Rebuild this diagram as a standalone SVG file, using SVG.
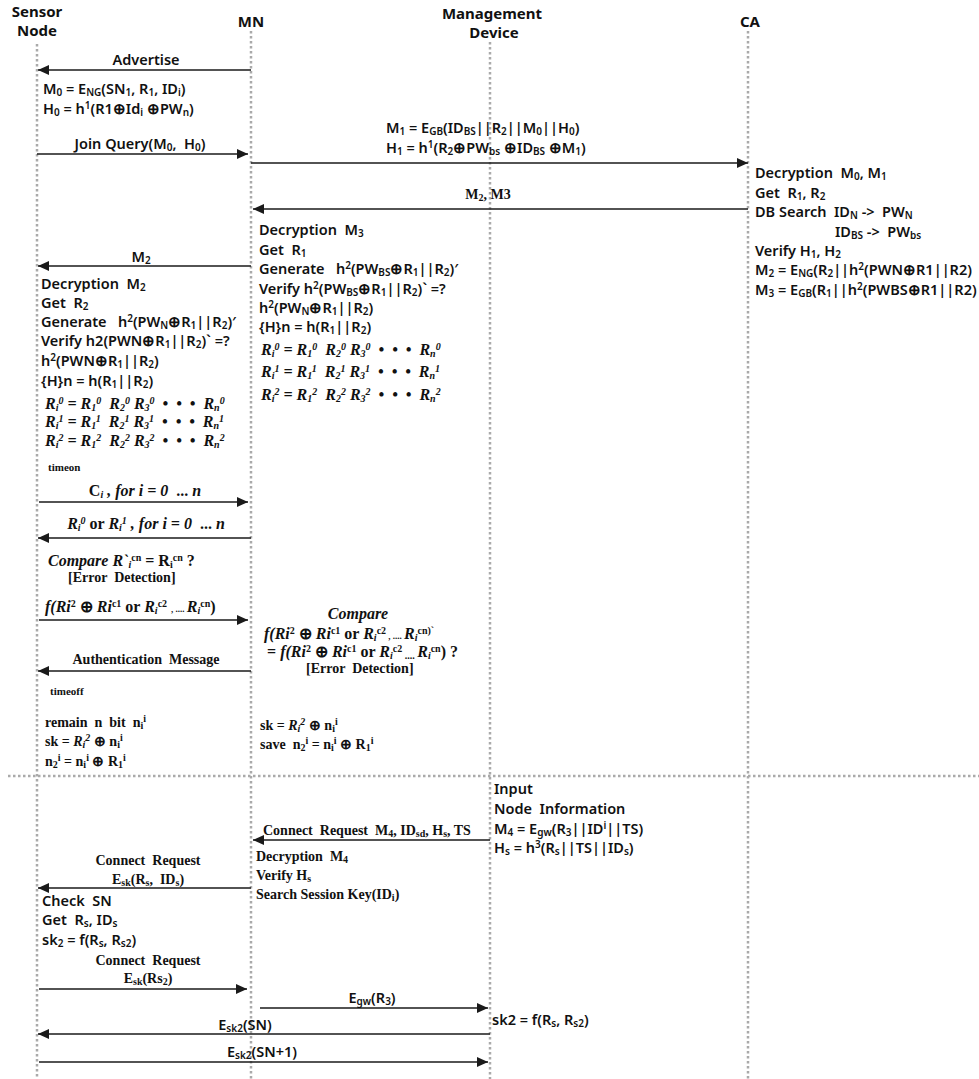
<svg xmlns="http://www.w3.org/2000/svg" width="979" height="1079" viewBox="0 0 979 1079">
<defs>
<marker id="ah" markerUnits="userSpaceOnUse" markerWidth="12" markerHeight="10" refX="11" refY="5" orient="auto">
<path d="M0,0 L11,5 L0,10 z" fill="#1a1a1a"/>
</marker>
<style>
text{white-space:pre;fill:#111}
.h{font-family:"Noto Sans","Liberation Sans",sans-serif;font-weight:bold;font-size:15px;text-anchor:middle}
.s{font-family:"Noto Sans","Liberation Sans",sans-serif;font-size:14.5px;font-weight:600}
.b{font-family:"Liberation Serif",serif;font-weight:bold;font-size:14px}
.m{font-family:"Liberation Serif",serif;font-weight:bold;font-style:italic;font-size:16px}
.t{font-family:"Liberation Serif",serif;font-weight:bold;font-size:11px}
.c{text-anchor:middle}
.sb{font-size:10px;baseline-shift:-2px}
.sp{font-size:10px;baseline-shift:5px}
.life{stroke:#aaa;stroke-width:2.5;stroke-dasharray:2.5 2.5;fill:none}
.msg{stroke:#1a1a1a;stroke-width:1.5;fill:none;marker-end:url(#ah)}
</style>
</defs>
<rect width="979" height="1079" fill="#fff"/>

<g id="lifelines">
<line class="life" x1="37" y1="44" x2="37" y2="1079"/>
<line class="life" x1="251" y1="31" x2="251" y2="1079"/>
<line class="life" x1="490" y1="42" x2="490" y2="1079"/>
<line class="life" x1="748" y1="31" x2="748" y2="1079"/>
<line class="life" x1="8" y1="776" x2="979" y2="776"/>
</g>

<g id="sensor-node">
<text class="h" x="37" y="17">Sensor</text>
<text class="h" x="37" y="36">Node</text>
</g>
<g id="mn">
<text class="h" x="251" y="27">MN</text>
</g>
<g id="management-device">
<text class="h" x="492" y="19">Management</text>
<text class="h" x="494" y="38">Device</text>
</g>
<g id="ca">
<text class="h" x="750" y="27">CA</text>
</g>

<g id="connectors">
<line class="msg" x1="251" y1="70" x2="38" y2="70"/>
<line class="msg" x1="37" y1="154" x2="248" y2="154"/>
<line class="msg" x1="251" y1="163" x2="748" y2="163"/>
<line class="msg" x1="748" y1="209" x2="253" y2="209"/>
<line class="msg" x1="251" y1="266" x2="38" y2="266"/>
<line class="msg" x1="39" y1="502" x2="248" y2="502"/>
<line class="msg" x1="251" y1="538" x2="38" y2="538"/>
<line class="msg" x1="39" y1="620" x2="248" y2="620"/>
<line class="msg" x1="251" y1="671" x2="38" y2="671"/>
<line class="msg" x1="490" y1="840" x2="253" y2="840"/>
<line class="msg" x1="251" y1="888" x2="38" y2="888"/>
<line class="msg" x1="39" y1="989" x2="247" y2="989"/>
<line class="msg" x1="260" y1="1008" x2="488" y2="1008"/>
<line class="msg" x1="490" y1="1034" x2="38" y2="1034"/>
<line class="msg" x1="39" y1="1062" x2="488" y2="1062"/>
</g>

<g id="labels">
<text class="s c" x="146" y="65">Advertise</text>
<text class="s" x="43" y="94">M<tspan class="sb">0</tspan> = E<tspan class="sb">NG</tspan>(SN<tspan class="sb">1</tspan>, R<tspan class="sb">1</tspan>, ID<tspan class="sb">i</tspan>)</text>
<text class="s" x="43" y="114">H<tspan class="sb">0</tspan> = h<tspan class="sp">1</tspan>(R1⊕Id<tspan class="sb">i</tspan> ⊕PW<tspan class="sb">n</tspan>)</text>
<text class="s c" x="140" y="149">Join Query(M<tspan class="sb">0</tspan>,  H<tspan class="sb">0</tspan>)</text>
<text class="s" x="386" y="133">M<tspan class="sb">1</tspan> = E<tspan class="sb">GB</tspan>(ID<tspan class="sb">BS</tspan>||R<tspan class="sb">2</tspan>||M<tspan class="sb">0</tspan>||H<tspan class="sb">0</tspan>)</text>
<text class="s" x="386" y="153">H<tspan class="sb">1</tspan> = h<tspan class="sp">1</tspan>(R<tspan class="sb">2</tspan>⊕PW<tspan class="sb">bs</tspan> ⊕ID<tspan class="sb">BS</tspan> ⊕M<tspan class="sb">1</tspan>)</text>

<text class="s" x="755" y="178">Decryption  M<tspan class="sb">0</tspan>, M<tspan class="sb">1</tspan></text>
<text class="s" x="755" y="198">Get  R<tspan class="sb">1</tspan>, R<tspan class="sb">2</tspan></text>
<text class="s" x="755" y="217">DB Search  ID<tspan class="sb">N</tspan> -&gt;  PW<tspan class="sb">N</tspan></text>
<text class="s" x="835" y="237">ID<tspan class="sb">BS</tspan> -&gt;  PW<tspan class="sb">bs</tspan></text>
<text class="s" x="755" y="256">Verify H<tspan class="sb">1</tspan>, H<tspan class="sb">2</tspan></text>
<text class="s" x="755" y="275">M<tspan class="sb">2</tspan> = E<tspan class="sb">NG</tspan>(R<tspan class="sb">2</tspan>||h<tspan class="sp">2</tspan>(PWN⊕R1||R2)</text>
<text class="s" x="755" y="295">M<tspan class="sb">3</tspan> = E<tspan class="sb">GB</tspan>(R<tspan class="sb">1</tspan>||h<tspan class="sp">2</tspan>(PWBS⊕R1||R2)</text>

<text class="b c" x="488" y="199">M<tspan class="sb">2</tspan>, M3</text>

<text class="s" x="259" y="235">Decryption  M<tspan class="sb">3</tspan></text>
<text class="s" x="259" y="255">Get  R<tspan class="sb">1</tspan></text>
<text class="s" x="259" y="274">Generate   h<tspan class="sp">2</tspan>(PW<tspan class="sb">BS</tspan>⊕R<tspan class="sb">1</tspan>||R<tspan class="sb">2</tspan>)′</text>
<text class="s" x="259" y="294">Verify h<tspan class="sp">2</tspan>(PW<tspan class="sb">BS</tspan>⊕R<tspan class="sb">1</tspan>||R<tspan class="sb">2</tspan>)` =?</text>
<text class="s" x="259" y="313">h<tspan class="sp">2</tspan>(PW<tspan class="sb">N</tspan>⊕R<tspan class="sb">1</tspan>||R<tspan class="sb">2</tspan>)</text>
<text class="s" x="259" y="332">{H}n = h(R<tspan class="sb">1</tspan>||R<tspan class="sb">2</tspan>)</text>
<text class="m" x="261" y="355">R<tspan class="sb">i</tspan><tspan class="sp">0</tspan> = R<tspan class="sb">1</tspan><tspan class="sp">0</tspan>  R<tspan class="sb">2</tspan><tspan class="sp">0</tspan> R<tspan class="sb">3</tspan><tspan class="sp">0</tspan>  •  •  •  R<tspan class="sb">n</tspan><tspan class="sp">0</tspan></text>
<text class="m" x="261" y="377">R<tspan class="sb">i</tspan><tspan class="sp">1</tspan> = R<tspan class="sb">1</tspan><tspan class="sp">1</tspan>  R<tspan class="sb">2</tspan><tspan class="sp">1</tspan> R<tspan class="sb">3</tspan><tspan class="sp">1</tspan>  •  •  •  R<tspan class="sb">n</tspan><tspan class="sp">1</tspan></text>
<text class="m" x="261" y="400">R<tspan class="sb">i</tspan><tspan class="sp">2</tspan> = R<tspan class="sb">1</tspan><tspan class="sp">2</tspan>  R<tspan class="sb">2</tspan><tspan class="sp">2</tspan> R<tspan class="sb">3</tspan><tspan class="sp">2</tspan>  •  •  •  R<tspan class="sb">n</tspan><tspan class="sp">2</tspan></text>

<text class="s c" x="141" y="262">M<tspan class="sb">2</tspan></text>
<text class="s" x="41" y="289">Decryption  M<tspan class="sb">2</tspan></text>
<text class="s" x="41" y="308">Get  R<tspan class="sb">2</tspan></text>
<text class="s" x="41" y="327">Generate   h<tspan class="sp">2</tspan>(PW<tspan class="sb">N</tspan>⊕R<tspan class="sb">1</tspan>||R<tspan class="sb">2</tspan>)′</text>
<text class="s" x="41" y="346">Verify h2(PWN⊕R<tspan class="sb">1</tspan>||R<tspan class="sb">2</tspan>)` =?</text>
<text class="s" x="41" y="366">h<tspan class="sp">2</tspan>(PWN⊕R<tspan class="sb">1</tspan>||R<tspan class="sb">2</tspan>)</text>
<text class="s" x="41" y="386">{H}n = h(R<tspan class="sb">1</tspan>||R<tspan class="sb">2</tspan>)</text>
<text class="m" x="45" y="409">R<tspan class="sb">i</tspan><tspan class="sp">0</tspan> = R<tspan class="sb">1</tspan><tspan class="sp">0</tspan>  R<tspan class="sb">2</tspan><tspan class="sp">0</tspan> R<tspan class="sb">3</tspan><tspan class="sp">0</tspan>  •  •  •  R<tspan class="sb">n</tspan><tspan class="sp">0</tspan></text>
<text class="m" x="45" y="427">R<tspan class="sb">i</tspan><tspan class="sp">1</tspan> = R<tspan class="sb">1</tspan><tspan class="sp">1</tspan>  R<tspan class="sb">2</tspan><tspan class="sp">1</tspan> R<tspan class="sb">3</tspan><tspan class="sp">1</tspan>  •  •  •  R<tspan class="sb">n</tspan><tspan class="sp">1</tspan></text>
<text class="m" x="45" y="446">R<tspan class="sb">i</tspan><tspan class="sp">2</tspan> = R<tspan class="sb">1</tspan><tspan class="sp">2</tspan>  R<tspan class="sb">2</tspan><tspan class="sp">2</tspan> R<tspan class="sb">3</tspan><tspan class="sp">2</tspan>  •  •  •  R<tspan class="sb">n</tspan><tspan class="sp">2</tspan></text>

<text class="t" x="48" y="471">timeon</text>
<text class="m c" x="145" y="496"><tspan font-style="normal">C</tspan><tspan class="sb">i</tspan> , for i = 0  <tspan font-style="normal">...</tspan> n</text>
<text class="m c" x="146" y="529">R<tspan class="sb">i</tspan><tspan class="sp">0</tspan><tspan font-style="normal"> or </tspan>R<tspan class="sb">i</tspan><tspan class="sp">1</tspan> , for i = 0  <tspan font-style="normal">...</tspan> n</text>
<text class="m" x="48" y="566">Compare R`<tspan class="sb">i</tspan><tspan class="sp" font-style="normal">cn</tspan><tspan font-style="normal"> = R</tspan><tspan class="sb" font-style="normal">i</tspan><tspan class="sp" font-style="normal">cn</tspan><tspan font-style="normal"> ?</tspan></text>
<text class="b" x="68" y="582">[Error  Detection]</text>

<text class="m" x="45" y="612">f(Ri<tspan class="sp" font-style="normal">2</tspan> <tspan font-style="normal">⊕</tspan> Ri<tspan class="sp" font-style="normal">c1</tspan><tspan font-style="normal"> or </tspan>R<tspan class="sb">i</tspan><tspan class="sp" font-style="normal">c2</tspan> <tspan font-size="9px" font-style="normal">, .... </tspan>R<tspan class="sb">i</tspan><tspan class="sp" font-style="normal">cn</tspan><tspan font-style="normal">)</tspan></text>

<text class="m c" x="358" y="619">Compare</text>
<text class="m" x="264" y="639">f(Ri<tspan class="sp" font-style="normal">2</tspan> <tspan font-style="normal">⊕</tspan> Ri<tspan class="sp" font-style="normal">c1</tspan><tspan font-style="normal"> or </tspan>R<tspan class="sb">i</tspan><tspan class="sp" font-style="normal">c2</tspan><tspan font-size="9px" font-style="normal"> , .... </tspan>R<tspan class="sb">i</tspan><tspan class="sp" font-style="normal">cn</tspan><tspan font-style="normal" class="sp">)`</tspan></text>
<text class="m" x="267" y="657"><tspan font-style="normal">= </tspan>f(Ri<tspan class="sp" font-style="normal">2</tspan> <tspan font-style="normal">⊕</tspan> Ri<tspan class="sp" font-style="normal">c1</tspan><tspan font-style="normal"> or </tspan>R<tspan class="sb">i</tspan><tspan class="sp" font-style="normal">c2</tspan><tspan font-size="9px" font-style="normal" class="sb"> .... </tspan>R<tspan class="sb">i</tspan><tspan class="sp" font-style="normal">cn</tspan><tspan font-style="normal">) ?</tspan></text>
<text class="b" x="306" y="673">[Error  Detection]</text>

<text class="b c" x="146" y="664">Authentication  Message</text>
<text class="t" x="50" y="695">timeoff</text>
<text class="b" x="45" y="727">remain  n  bit  n<tspan class="sb">i</tspan><tspan class="sp">i</tspan></text>
<text class="b" x="45" y="746">sk = <tspan font-style="italic">R<tspan class="sb">i</tspan><tspan class="sp">2</tspan></tspan> ⊕ n<tspan class="sb">i</tspan><tspan class="sp">i</tspan></text>
<text class="b" x="45" y="766">n<tspan class="sb">2</tspan><tspan class="sp">i</tspan> = n<tspan class="sb">i</tspan><tspan class="sp">i</tspan> ⊕ R<tspan class="sb">1</tspan><tspan class="sp">i</tspan></text>
<text class="b" x="260" y="730">sk = <tspan font-style="italic">R<tspan class="sb">i</tspan><tspan class="sp">2</tspan></tspan> ⊕ n<tspan class="sb">i</tspan><tspan class="sp">i</tspan></text>
<text class="b" x="260" y="749">save  n<tspan class="sb">2</tspan><tspan class="sp">i</tspan> = n<tspan class="sb">i</tspan><tspan class="sp">i</tspan> ⊕ R<tspan class="sb">1</tspan><tspan class="sp">i</tspan></text>

<text class="s" x="494" y="794">Input</text>
<text class="s" x="494" y="814">Node  Information</text>
<text class="s" x="494" y="834">M<tspan class="sb">4</tspan> = E<tspan class="sb">gw</tspan>(R<tspan class="sb">3</tspan>||ID<tspan class="sp">i</tspan>||TS)</text>
<text class="s" x="494" y="853">H<tspan class="sb">s</tspan> = h<tspan class="sp">3</tspan>(R<tspan class="sb">s</tspan>||TS||ID<tspan class="sb">s</tspan>)</text>

<text class="b" x="263" y="835">Connect  Request  M<tspan class="sb">4</tspan>, ID<tspan class="sb">sd</tspan>, H<tspan class="sb">s</tspan>, TS</text>
<text class="b" x="256" y="861">Decryption  M<tspan class="sb">4</tspan></text>
<text class="b" x="256" y="880">Verify H<tspan class="sb">s</tspan></text>
<text class="b" x="256" y="899">Search Session Key(ID<tspan class="sb">i</tspan>)</text>

<text class="b c" x="148" y="865">Connect  Request</text>
<text class="b c" x="148" y="884">E<tspan class="sb">sk</tspan>(R<tspan class="sb">s</tspan>,  ID<tspan class="sb">s</tspan>)</text>
<text class="s" x="42" y="906">Check  SN</text>
<text class="s" x="42" y="925">Get  R<tspan class="sb">s</tspan>, ID<tspan class="sb">s</tspan></text>
<text class="s" x="42" y="945">sk<tspan class="sb">2</tspan> = f(R<tspan class="sb">s</tspan>, R<tspan class="sb">s2</tspan>)</text>
<text class="b c" x="148" y="965">Connect  Request</text>
<text class="b c" x="148" y="983">E<tspan class="sb">sk</tspan>(Rs<tspan class="sb">2</tspan>)</text>
<text class="s c" x="372" y="1003">E<tspan class="sb">gw</tspan>(R<tspan class="sb">3</tspan>)</text>
<text class="s" x="492" y="1025">sk2 = f(R<tspan class="sb">s</tspan>, R<tspan class="sb">s2</tspan>)</text>
<text class="s c" x="245" y="1030">E<tspan class="sb">sk2</tspan>(SN)</text>
<text class="s c" x="262" y="1057">E<tspan class="sb">sk2</tspan>(SN+1)</text>
</g>
</svg>
